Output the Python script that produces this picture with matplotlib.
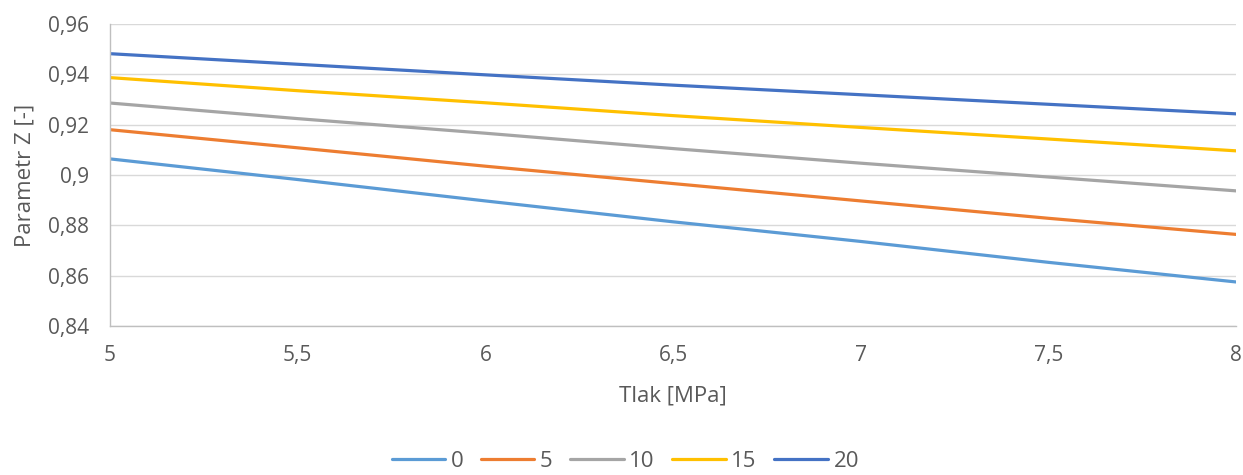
import matplotlib
matplotlib.use("Agg")
import matplotlib.pyplot as plt
from matplotlib.ticker import FuncFormatter

plt.rcParams['font.family'] = ['Open Sans', 'DejaVu Sans']

pressure = [5.0, 5.5, 6.0, 6.5, 7.0, 7.5, 8.0]
series_labels = ['0', '5', '10', '15', '20']
z_0 = [0.9064, 0.8982, 0.8897, 0.8814, 0.8736, 0.8653, 0.8575]
z_5 = [0.9180, 0.9108, 0.9035, 0.8966, 0.8897, 0.8828, 0.8764]
z_10 = [0.9286, 0.9224, 0.9166, 0.9105, 0.9047, 0.8992, 0.8937]
z_15 = [0.9387, 0.9335, 0.9287, 0.9236, 0.9189, 0.9143, 0.9096]
z_20 = [0.9482, 0.9440, 0.9398, 0.9357, 0.9319, 0.9281, 0.9243]
series_values = [z_0, z_5, z_10, z_15, z_20]
colors = ['#5B9BD5', '#ED7D31', '#A5A5A5', '#FFC000', '#4472C4']

fig = plt.figure(figsize=(12.43, 4.75), dpi=100)
ax = fig.add_axes([110/1243, 1-326/475, (1236-110)/1243, (326-24)/475])

for lab, vals, c in zip(series_labels, series_values, colors):
    ax.plot(pressure, vals, color=c, lw=2.3, label=lab, solid_capstyle='round')

ax.set_xlim(5, 8)
ax.set_ylim(0.84, 0.96)
ax.set_yticks([0.84, 0.86, 0.88, 0.90, 0.92, 0.94, 0.96])
ax.set_xticks([5, 5.5, 6, 6.5, 7, 7.5, 8])

def fmt(v, pos):
    s = ('%.2f' % v).rstrip('0').rstrip('.')
    return s.replace('.', ',')

ax.yaxis.set_major_formatter(FuncFormatter(fmt))
ax.xaxis.set_major_formatter(FuncFormatter(fmt))

ax.grid(axis='y', color='#D9D9D9', lw=1)
ax.set_axisbelow(True)
for s in ['top', 'right']:
    ax.spines[s].set_visible(False)
for s in ['left', 'bottom']:
    ax.spines[s].set_color('#BFBFBF')
    ax.spines[s].set_linewidth(1)

ax.tick_params(axis='both', length=0, labelsize=15, labelcolor='#595959')
ax.tick_params(axis='y', pad=15)
ax.tick_params(axis='x', pad=14)

ax.set_ylabel('Parametr Z [-]', fontsize=16, color='#595959', labelpad=9)
ax.set_xlabel('Tlak [MPa]', fontsize=16, color='#595959', labelpad=14)

leg = fig.legend(loc='lower center', bbox_to_anchor=(0.503, -0.036), ncol=5,
                 frameon=False, fontsize=16, handlelength=2.4, handletextpad=0.25,
                 columnspacing=0.8)
for t in leg.get_texts():
    t.set_color('#595959')

fig.savefig('out.png', dpi=100)
